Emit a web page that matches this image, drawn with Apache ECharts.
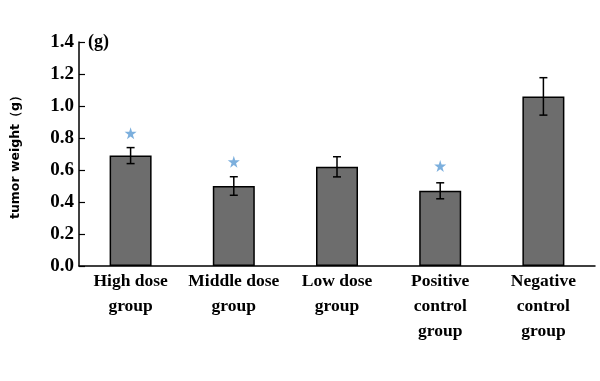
<!DOCTYPE html>
<html>
<head>
<meta charset="utf-8">
<script src="https://cdn.jsdelivr.net/npm/echarts@6/dist/echarts.min.js"></script>
<style>html,body{margin:0;padding:0;background:#fff;}#c{width:600px;height:381px;}</style>
</head>
<body>
<div id="c"></div>
<script>
var categories = ['High dose\ngroup', 'Middle dose\ngroup', 'Low dose\ngroup', 'Positive\ncontrol\ngroup', 'Negative\ncontrol\ngroup'];
var means = [0.69, 0.50, 0.62, 0.47, 1.06];
var errors = [0.05, 0.058, 0.063, 0.05, 0.117];
var starValues = [0.83, 0.652, null, 0.625, null];
var yTicks = [0, 0.2, 0.4, 0.6, 0.8, 1.0, 1.2, 1.4];

var chart = echarts.init(document.getElementById('c'));
var serif = '"Liberation Serif", "Times New Roman", serif';
var starPath = 'path://M50,0 L61,35 L98,35 L68,57 L79,91 L50,70 L21,91 L32,57 L2,35 L39,35 Z';

var errData = means.map(function (m, i) { return [i, m - errors[i], m + errors[i]]; });
var starData = [];
starValues.forEach(function (v, i) { if (v !== null) starData.push([i, v]); });

chart.setOption({
  animation: false,
  backgroundColor: '#fff',
  grid: { left: 79, right: 5, top: 42, bottom: 115 },
  xAxis: {
    type: 'category',
    data: categories,
    boundaryGap: true,
    axisLine: { lineStyle: { color: '#000', width: 1.5 } },
    axisTick: { inside: true, length: 5, lineStyle: { color: '#000', width: 1.2 } },
    axisLabel: { fontFamily: serif, fontWeight: 'bold', fontSize: 17.5, color: '#000', lineHeight: 25, margin: 3, interval: 0 }
  },
  yAxis: {
    type: 'value',
    min: yTicks[0],
    max: yTicks[yTicks.length - 1],
    interval: 0.2,
    name: 'tumor weight（g）',
    nameLocation: 'middle',
    nameRotate: 90,
    nameGap: 57,
    nameTextStyle: { fontFamily: '"DejaVu Sans", sans-serif', fontWeight: 'bold', fontSize: 12.5, color: '#000' },
    splitLine: { show: false },
    axisLine: { show: true, lineStyle: { color: '#000', width: 1.5 } },
    axisTick: { show: true, inside: true, length: 6, lineStyle: { color: '#000', width: 1.2 } },
    axisLabel: { fontFamily: serif, fontWeight: 'bold', fontSize: 19, color: '#000', margin: 5,
      formatter: function (v) { return v.toFixed(1); } }
  },
  graphic: [{
    type: 'text', left: 88, top: 33,
    style: { text: '(g)', fontFamily: serif, fontWeight: 'bold', fontSize: 18, fill: '#000' }
  }],
  series: [
    {
      type: 'bar',
      data: means,
      barWidth: 42,
      itemStyle: { color: '#6d6d6d', borderColor: '#000', borderWidth: 1.5 }
    },
    {
      type: 'custom',
      data: errData,
      z: 5,
      renderItem: function (params, api) {
        var x = api.coord([api.value(0), 0])[0];
        var lo = api.coord([api.value(0), api.value(1)])[1];
        var hi = api.coord([api.value(0), api.value(2)])[1];
        var w = 4;
        var st = { stroke: '#000', lineWidth: 1.5 };
        return { type: 'group', children: [
          { type: 'line', shape: { x1: x, y1: lo, x2: x, y2: hi }, style: st },
          { type: 'line', shape: { x1: x - w, y1: lo, x2: x + w, y2: lo }, style: st },
          { type: 'line', shape: { x1: x - w, y1: hi, x2: x + w, y2: hi }, style: st }
        ] };
      }
    },
    {
      type: 'scatter',
      data: starData,
      symbol: starPath,
      symbolSize: 12,
      itemStyle: { color: '#5b9bd5' },
      z: 6
    }
  ]
});
</script>
</body>
</html>
